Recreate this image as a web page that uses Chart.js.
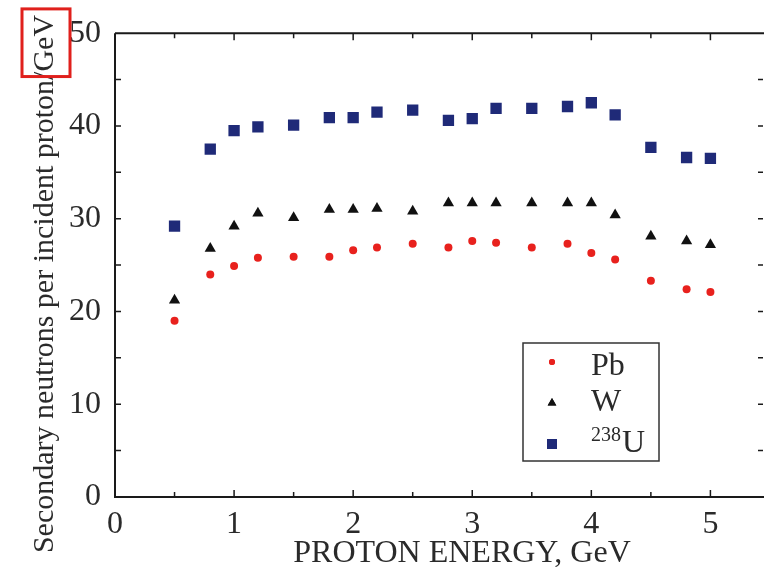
<!DOCTYPE html>
<html><head><meta charset="utf-8">
<script src="https://cdn.jsdelivr.net/npm/chart.js@4"></script>
<style>html,body{margin:0;padding:0;background:#fff}canvas{display:block}</style>
</head><body>
<canvas id="c" width="764" height="567"></canvas>
<script>
const energies = [0.5,0.8,1.0,1.2,1.5,1.8,2.0,2.2,2.5,2.8,3.0,3.2,3.5,3.8,4.0,4.2,4.5,4.8,5.0];
const pbValues = [19.0,24.0,24.9,25.8,25.9,25.9,26.6,26.9,27.3,26.9,27.6,27.4,26.9,27.3,26.3,25.6,23.3,22.4,22.1];
const wValues  = [21.2,26.8,29.2,30.6,30.1,31.0,31.0,31.1,30.8,31.7,31.7,31.7,31.7,31.7,31.7,30.4,28.1,27.6,27.2];
const uValues  = [29.2,37.5,39.5,39.9,40.1,40.9,40.9,41.5,41.7,40.6,40.8,41.9,41.9,42.1,42.5,41.2,37.7,36.6,36.5];
const xTickValues = [0,1,2,3,4,5];
const yTickValues = [0,10,20,30,40,50];
const seriesNames = ['Pb','W','U'];
const seriesSup = ['','','238'];
const xTitle = 'PROTON ENERGY, GeV';
const yTitleMain = 'Secondary neutrons per incident proton/';
const yTitleBoxed = 'GeV';

const FONT = '"Liberation Serif", "DejaVu Serif", serif';
const TEXT = '#2a2a2a';

function pts(vals){ return energies.map((e,i)=>({x:e,y:vals[i]})); }

const framePlugin = {
  id:'frame',
  afterDraw(chart){
    const ctx = chart.ctx, a = chart.chartArea;
    const xs = chart.scales.x, ys = chart.scales.y;
    ctx.save();
    ctx.strokeStyle = '#1a1a1a';
    ctx.lineWidth = 2;
    ctx.beginPath();
    ctx.moveTo(a.left, a.top); ctx.lineTo(a.left, a.bottom); ctx.lineTo(a.right+2, a.bottom);
    ctx.moveTo(a.left, a.top); ctx.lineTo(a.right+2, a.top);
    ctx.stroke();
    ctx.lineWidth = 1.5;
    ctx.beginPath();
    for (let v=0.5; v<=5.01; v+=0.5){
      const px = xs.getPixelForValue(v);
      const L = Math.abs(v-Math.round(v))<1e-6 ? 7 : 5;
      ctx.moveTo(px, a.bottom); ctx.lineTo(px, a.bottom-L);
      ctx.moveTo(px, a.top); ctx.lineTo(px, a.top+L);
    }
    for (let v=5; v<=45.01; v+=5){
      const py = ys.getPixelForValue(v);
      ctx.moveTo(a.left, py); ctx.lineTo(a.left+6, py);
      ctx.moveTo(a.right-6, py); ctx.lineTo(a.right-1, py);
    }
    ctx.stroke();

    // x title
    ctx.fillStyle = TEXT;
    ctx.font = '32px ' + FONT;
    ctx.textAlign = 'center';
    ctx.textBaseline = 'alphabetic';
    ctx.fillText(xTitle, 462, 562);

    // y title
    ctx.save();
    ctx.font = '30px ' + FONT;
    const full = yTitleMain + yTitleBoxed;
    const wFull = ctx.measureText(full).width;
    const wBox = ctx.measureText(yTitleBoxed).width;
    const cy = 284, bx = 53;
    ctx.translate(bx, cy);
    ctx.rotate(-Math.PI/2);
    ctx.textAlign = 'left';
    ctx.fillText(full, -wFull/2, 0);
    const s = wFull/2 - wBox;
    ctx.strokeStyle = '#e0201c';
    ctx.lineWidth = 3;
    ctx.strokeRect(s-5, -31, wBox+11, 48);
    ctx.restore();

    // legend
    const lx = 523, ly = 343, lw = 136, lh = 118;
    ctx.strokeStyle = '#333';
    ctx.lineWidth = 1.5;
    ctx.strokeRect(lx, ly, lw, lh);
    const rowsY = [362, 403, 444];
    const baseY = [375, 411, 452];
    chart.data.datasets.forEach((ds,i)=>{
      ctx.fillStyle = ds.backgroundColor;
      ctx.beginPath();
      Chart.helpers.drawPoint(ctx, {pointStyle: ds.pointStyle, radius: ds.legendRadius, rotation:0, borderWidth:0}, 552, rowsY[i]);
      ctx.fill();
      ctx.fillStyle = TEXT;
      ctx.textAlign = 'left';
      let tx = 591;
      if (seriesSup[i]){
        ctx.font = '20px ' + FONT;
        ctx.fillText(seriesSup[i], tx, 441);
        tx += ctx.measureText(seriesSup[i]).width + 1;
      }
      ctx.font = '32px ' + FONT;
      ctx.fillText(seriesNames[i], tx, baseY[i]);
    });
    ctx.restore();
  }
};

new Chart(document.getElementById('c'), {
  type:'scatter',
  data:{
    datasets:[
      {label:'Pb', data:pts(pbValues), pointStyle:'circle', pointRadius:4, legendRadius:3, backgroundColor:'#e8211d', borderColor:'#e8211d', borderWidth:0},
      {label:'W', data:pts(wValues), pointStyle:'triangle', pointRadius:6.5, legendRadius:5, backgroundColor:'#111111', borderColor:'#111111', borderWidth:0},
      {label:'238U', data:pts(uValues), pointStyle:'rect', pointRadius:8, legendRadius:7, backgroundColor:'#1f2a78', borderColor:'#1f2a78', borderWidth:0}
    ]
  },
  options:{
    responsive:false, animation:false, events:[],
    layout:{autoPadding:false, padding:{top:33,right:0,left:0,bottom:0}},
    plugins:{legend:{display:false}, tooltip:{enabled:false}},
    scales:{
      x:{type:'linear', min:0, max:5.45,
        afterFit(s){ s.height = 70; },
        afterBuildTicks(s){ s.ticks = xTickValues.map(v=>({value:v})); },
        grid:{display:false, drawTicks:false}, border:{display:false},
        ticks:{font:{family:FONT,size:32}, color:TEXT, padding:8, maxRotation:0}
      },
      y:{type:'linear', min:0, max:50,
        afterFit(s){ s.width = 115; },
        afterBuildTicks(s){ s.ticks = yTickValues.map(v=>({value:v})); },
        grid:{display:false, drawTicks:false}, border:{display:false},
        ticks:{font:{family:FONT,size:32}, color:TEXT, padding:14}
      }
    }
  },
  plugins:[framePlugin]
});
</script>
</body></html>
